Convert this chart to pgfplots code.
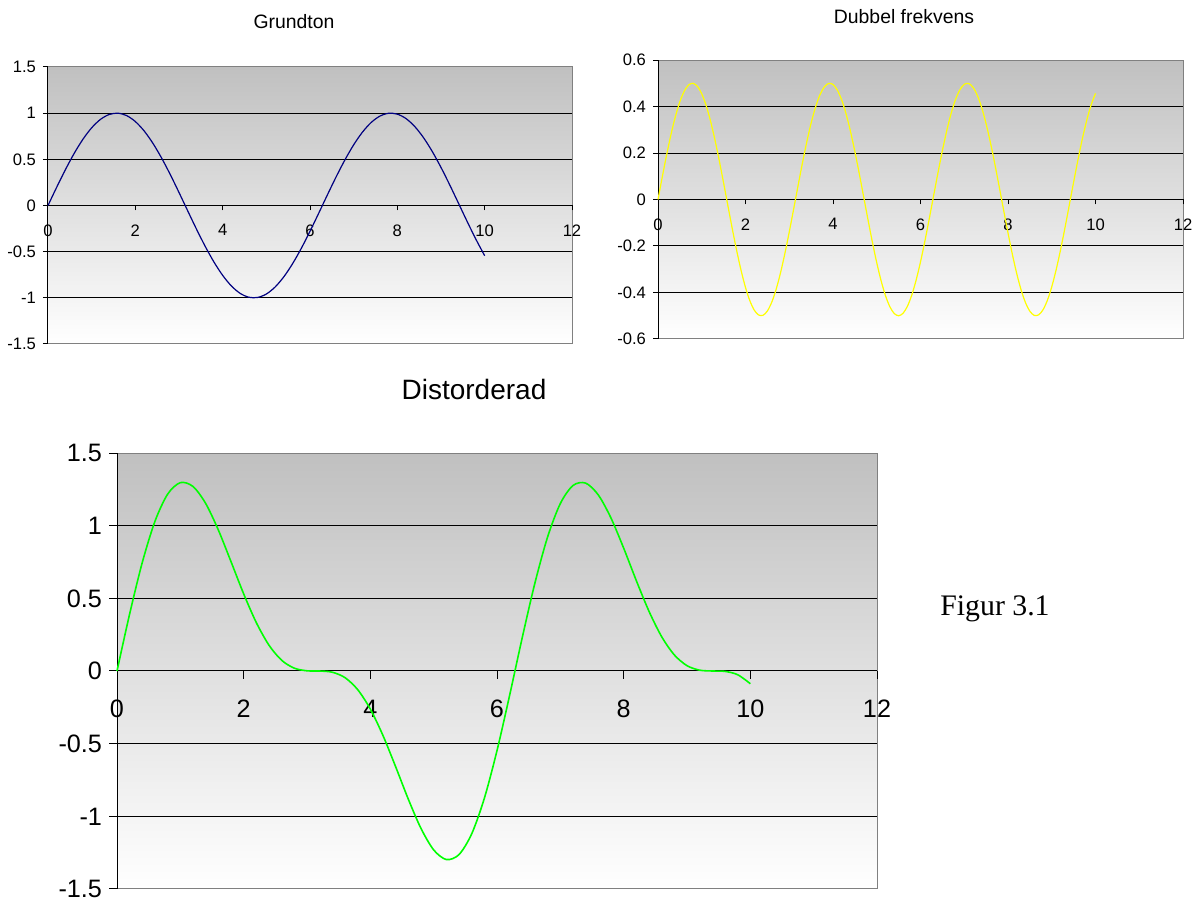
\documentclass[border=0pt]{standalone}
\usepackage{fontspec}
\setmainfont{Liberation Serif}
\newfontfamily\arial{Liberation Sans}
\usepackage{pgfplots}
\pgfplotsset{compat=1.18}
\definecolor{bgtop}{RGB}{192,192,192}
\definecolor{framegray}{RGB}{128,128,128}
\definecolor{navyline}{RGB}{0,0,128}
\definecolor{yel}{RGB}{255,255,0}
\definecolor{grn}{RGB}{0,255,0}
\pgfplotsset{excel/.style={
  scale only axis,
  axis x line=middle, axis y line=left,
  axis line style={-, black, line width=0.5pt},
  xmin=0, xmax=12, xtick={0,2,4,6,8,10,12},
  tick align=outside,
  xtick align=outside,
  major tick length=2.5pt,
  tick style={black, line width=0.5pt},
  axis background/.style={top color=bgtop, bottom color=white, draw=framegray, line width=0.5pt},
  hide obscured x ticks=false,
  hide obscured y ticks=false,
  /pgf/number format/assume math mode=true,
  extra y tick labels={},
  extra y tick style={grid=major, major tick length=0pt},
  major grid style={black, line width=0.5pt},
  clip=false,
}}
\begin{document}
\begin{tikzpicture}
\useasboundingbox (0,0) rectangle (600pt,449.5pt);
% Grundton
\begin{axis}[excel, at={(24pt,277.5pt)}, anchor=south west,
  width=262pt, height=138.5pt,
  ymin=-1.5, ymax=1.5, ytick={-1.5,-1,-0.5,0,0.5,1,1.5},
  extra y ticks={-1,-0.5,0.5,1},
  tick label style={font=\arial\fontsize{8.3}{10}\selectfont},
  xticklabel style={yshift=-3.5pt}]
\addplot[navyline, line width=0.6pt, smooth] coordinates {
(0,0) (0.2,0.19867) (0.4,0.38942) (0.6,0.56464) (0.8,0.71736) (1,0.84147) (1.2,0.93204) (1.4,0.98545) (1.6,0.99957) (1.8,0.97385) (2,0.90930) (2.2,0.80850) (2.4,0.67546) (2.6,0.51550) (2.8,0.33499) (3,0.14112) (3.2,-0.05837) (3.4,-0.25554) (3.6,-0.44252) (3.8,-0.61186) (4,-0.75680) (4.2,-0.87158) (4.4,-0.95160) (4.6,-0.99369) (4.8,-0.99616) (5,-0.95892) (5.2,-0.88345) (5.4,-0.77276) (5.6,-0.63127) (5.8,-0.46460) (6,-0.27942) (6.2,-0.08309) (6.4,0.11655) (6.6,0.31154) (6.8,0.49411) (7,0.65699) (7.2,0.79367) (7.4,0.89870) (7.6,0.96792) (7.8,0.99854) (8,0.98936) (8.2,0.94073) (8.4,0.85460) (8.6,0.73440) (8.8,0.58491) (9,0.41212) (9.2,0.22289) (9.4,0.02478) (9.6,-0.17433) (9.8,-0.36648) (10,-0.54402)
};
\end{axis}
% Dubbel frekvens
\begin{axis}[excel, at={(329pt,280pt)}, anchor=south west,
  width=262.5pt, height=139.5pt,
  ymin=-0.6, ymax=0.6, ytick={-0.6,-0.4,-0.2,0,0.2,0.4,0.6},
  extra y ticks={-0.4,-0.2,0.2,0.4},
  tick label style={font=\arial\fontsize{8.3}{10}\selectfont},
  xticklabel style={yshift=-3.5pt}]
\addplot[yel, line width=0.6pt, smooth] coordinates {
(0,0) (0.1,0.09934) (0.2,0.19471) (0.3,0.28232) (0.4,0.35868) (0.5,0.42074) (0.6,0.46602) (0.7,0.49273) (0.8,0.49979) (0.9,0.48693) (1,0.45465) (1.1,0.40425) (1.2,0.33773) (1.3,0.25775) (1.4,0.16750) (1.5,0.07056) (1.6,-0.02919) (1.7,-0.12777) (1.8,-0.22126) (1.9,-0.30593) (2,-0.37840) (2.1,-0.43579) (2.2,-0.47580) (2.3,-0.49685) (2.4,-0.49808) (2.5,-0.47946) (2.6,-0.44173) (2.7,-0.38638) (2.8,-0.31564) (2.9,-0.23230) (3,-0.13971) (3.1,-0.04155) (3.2,0.05828) (3.3,0.15577) (3.4,0.24706) (3.5,0.32850) (3.6,0.39684) (3.7,0.44935) (3.8,0.48396) (3.9,0.49927) (4,0.49468) (4.1,0.47037) (4.2,0.42730) (4.3,0.36720) (4.4,0.29246) (4.5,0.20606) (4.6,0.11144) (4.7,0.01239) (4.8,-0.08717) (4.9,-0.18324) (5,-0.27201) (5.1,-0.34994) (5.2,-0.41392) (5.3,-0.46139) (5.4,-0.49047) (5.5,-0.50000) (5.6,-0.48959) (5.7,-0.45967) (5.8,-0.41142) (5.9,-0.34676) (6,-0.26829) (6.1,-0.17912) (6.2,-0.08281) (6.3,0.01681) (6.4,0.11576) (6.5,0.21009) (6.6,0.29603) (6.7,0.37019) (6.8,0.42958) (6.9,0.47185) (7,0.49531) (7.1,0.49902) (7.2,0.48283) (7.3,0.44740) (7.4,0.39413) (7.5,0.32515) (7.6,0.24320) (7.7,0.15156) (7.8,0.05388) (7.9,-0.04596) (8,-0.14396) (8.1,-0.23621) (8.2,-0.31906) (8.3,-0.38919) (8.4,-0.44379) (8.5,-0.48070) (8.6,-0.49845) (8.7,-0.49633) (8.8,-0.47442) (8.9,-0.43360) (9,-0.37549) (9.1,-0.30242) (9.2,-0.21729) (9.3,-0.12349) (9.4,-0.02477) (9.5,0.07494) (9.6,0.17166) (9.7,0.26153) (9.8,0.34099) (9.9,0.40684) (10,0.45647)
};
\end{axis}
% Distorderad
\begin{axis}[excel, at={(58.5pt,5pt)}, anchor=south west,
  width=380pt, height=218pt,
  major tick length=4pt,
  ymin=-1.5, ymax=1.5, ytick={-1.5,-1,-0.5,0,0.5,1,1.5},
  extra y ticks={-1,-0.5,0.5,1},
  tick label style={font=\arial\fontsize{12.6}{15}\selectfont},
  xticklabel style={yshift=-7pt}]
\addplot[grn, line width=0.8pt, smooth] coordinates {
(0,0) (0.2,0.39338) (0.4,0.74810) (0.6,1.03066) (0.8,1.21715) (1,1.29612) (1.2,1.26977) (1.4,1.15295) (1.6,0.97038) (1.8,0.75259) (2,0.53090) (2.2,0.33270) (2.4,0.17738) (2.6,0.07377) (2.8,0.01935) (3,0.00141) (3.2,-0.00009) (3.4,-0.00848) (3.6,-0.04568) (3.8,-0.12790) (4,-0.26212) (4.2,-0.44428) (4.4,-0.65914) (4.6,-0.88225) (4.8,-1.08333) (5,-1.23093) (5.2,-1.29737) (5.4,-1.26323) (5.6,-1.12086) (5.8,-0.87602) (6,-0.54771) (6.2,-0.16590) (6.4,0.23231) (6.6,0.60757) (6.8,0.92369) (7,1.15230) (7.2,1.27650) (7.4,1.29283) (7.6,1.21112) (7.8,1.05242) (8,0.84540) (8.2,0.62167) (8.4,0.41081) (8.6,0.23595) (8.8,0.11049) (9,0.03663) (9.2,0.00560) (9.4,0.00001) (9.6,-0.00267) (9.8,-0.02549) (10,-0.08755)
};
\end{axis}
\node[font=\arial\fontsize{9.7}{11}\selectfont] at (147pt,438.5pt) {Grundton};
\node[font=\arial\fontsize{9.7}{11}\selectfont] at (452pt,441pt) {Dubbel frekvens};
\node[font=\arial\fontsize{14}{17}\selectfont] at (237pt,254.5pt) {Distorderad};
\node[font=\fontsize{14.9}{17}\selectfont] at (497.5pt,145pt) {Figur 3.1};
\end{tikzpicture}
\end{document}
